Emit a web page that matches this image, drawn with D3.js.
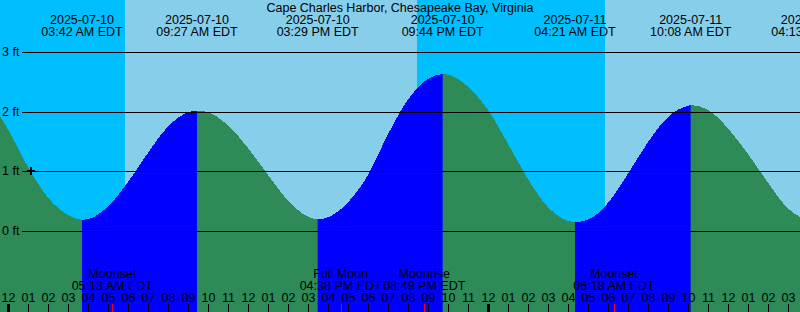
<!DOCTYPE html>
<html>
<head>
<meta charset="utf-8">
<script src="https://cdn.jsdelivr.net/npm/d3@7"></script>
<style>
  html, body { margin: 0; padding: 0; background: #fff; }
  svg { display: block; font-family: "Liberation Sans", Arial, sans-serif; font-size: 12.5px; }
</style>
</head>
<body>
<svg id="chart" width="800" height="312"></svg>
<script>
const title = 'Cape Charles Harbor, Chesapeake Bay, Virginia';

// high / low tides, local time (EDT)
const tideEventTimes = ['2025-07-10 03:42', '2025-07-10 09:27', '2025-07-10 15:29', '2025-07-10 21:44',
                        '2025-07-11 04:21', '2025-07-11 10:08', '2025-07-11 16:13'];
const tideEventTypes = ['low', 'high', 'low', 'high', 'low', 'high', 'low'];
const tideEventFeet = [0.19, 2.02, 0.195, 2.63, 0.15, 2.11, 0.18];

// hourly readings of the tide curve, hours after midnight 2025-07-10
const readingHours = [-3, -2, -1, 0, 1, 2, 3, 4, 5, 6, 7, 8, 9, 10, 11, 12, 13, 14, 15, 16, 17, 18, 19, 20,
                      21, 22, 23, 24, 25, 26, 27, 28, 29, 30, 31, 32, 33, 34, 35, 36, 37, 38, 39, 40, 41];
const readingFeet = [2.56, 2.47, 2.20, 1.70, 1.07, 0.56, 0.27, 0.20, 0.41, 0.82, 1.31, 1.75, 1.99, 1.99, 1.77,
                     1.39, 0.94, 0.51, 0.24, 0.23, 0.48, 0.94, 1.62, 2.20, 2.55, 2.62, 2.42, 2.03, 1.46, 0.87,
                     0.40, 0.17, 0.19, 0.47, 0.96, 1.49, 1.91, 2.10, 2.03, 1.72, 1.29, 0.81, 0.38, 0.19, 0.32];

// sun and moon
const sunTimes = ['2025-07-10 05:51', '2025-07-10 20:26', '2025-07-11 05:51'];
const sunKinds = ['Sunrise', 'Sunset', 'Sunrise'];
const moonTimes = ['2025-07-10 05:13', '2025-07-10 16:38', '2025-07-10 20:49', '2025-07-11 06:18'];
const moonNames = ['Moonset', 'Full Moon', 'Moonrise', 'Moonset'];

// current time mark
const nowTime = '2025-07-10 01:09';
const nowFeet = 1.0;

const levelTicks = [0, 1, 2, 3];

const W = 800, H = 312;
const parse = d3.timeParse('%Y-%m-%d %H:%M');
const base = new Date(2025, 6, 10, 0, 0);
const hr = 3600 * 1000;
const atHour = h => new Date(base.getTime() + h * hr);

const x = d3.scaleTime()
  .domain([atHour(-0.4), atHour(39.6)])
  .range([0, W]);
const y = d3.scaleLinear().domain([0, 3]).range([231, 52]);

const events = tideEventTimes.map((t, i) => ({
  date: parse(t), type: tideEventTypes[i], ft: tideEventFeet[i]
}));
const readings = readingHours.map((h, i) => ({ date: atHour(h), ft: readingFeet[i] }))
  .concat(events.map(e => ({ date: e.date, ft: e.ft })))
  .sort((a, b) => a.date - b.date);

const svg = d3.select('#chart');

// day / night sky
const skyEdges = [x.domain()[0]].concat(sunTimes.map(parse), [x.domain()[1]]);
let night = sunKinds[0] === 'Sunrise';
for (let i = 0; i < skyEdges.length - 1; i++) {
  svg.append('rect')
    .attr('x', x(skyEdges[i]))
    .attr('y', 0)
    .attr('width', x(skyEdges[i + 1]) - x(skyEdges[i]))
    .attr('height', H)
    .attr('fill', night ? '#00BFFF' : '#87CEEB')
    .attr('shape-rendering', 'crispEdges');
  night = !night;
}

// water
const area = d3.area()
  .x(d => x(d.date))
  .y0(H)
  .y1(d => y(d.ft))
  .curve(d3.curveMonotoneX);

svg.append('path')
  .datum(readings)
  .attr('d', area)
  .attr('fill', '#2E8B57')
  .attr('shape-rendering', 'crispEdges');

// rising tide (low -> high) in blue
const clip = svg.append('defs').append('clipPath').attr('id', 'flood');
events.forEach((e, i) => {
  const next = events[i + 1];
  if (e.type === 'low' && next && next.type === 'high') {
    clip.append('rect')
      .attr('x', x(e.date))
      .attr('y', 0)
      .attr('width', x(next.date) - x(e.date))
      .attr('height', H);
  }
});
svg.append('path')
  .datum(readings)
  .attr('d', area)
  .attr('fill', '#0000FF')
  .attr('clip-path', 'url(#flood)')
  .attr('shape-rendering', 'crispEdges');

// level lines
levelTicks.forEach(v => {
  const yy = Math.round(y(v));
  svg.append('line')
    .attr('x1', 22).attr('x2', W)
    .attr('y1', yy + 0.5).attr('y2', yy + 0.5)
    .attr('stroke', '#000');
  svg.append('text')
    .attr('x', 2).attr('y', yy + 4)
    .text(`${v} ft`);
});

// now mark
const nx = Math.round(x(parse(nowTime))), ny = Math.round(y(nowFeet));
svg.append('path')
  .attr('d', `M${nx - 4},${ny}H${nx + 4}M${nx},${ny - 4}V${ny + 4}`)
  .attr('stroke', '#000')
  .attr('stroke-width', 2)
  .attr('fill', 'none');

// title and tide labels
svg.append('text')
  .attr('x', W / 2).attr('y', 12)
  .attr('text-anchor', 'middle')
  .text(title);

const fmtDate = d3.timeFormat('%Y-%m-%d');
const fmtTime = d3.timeFormat('%I:%M %p EDT');
const tideLabels = svg.append('g').attr('text-anchor', 'middle');
events.forEach(e => {
  tideLabels.append('text').attr('x', x(e.date)).attr('y', 24).text(fmtDate(e.date));
  tideLabels.append('text').attr('x', x(e.date)).attr('y', 36).text(fmtTime(e.date));
});

// moon labels
const moonLabels = svg.append('g').attr('text-anchor', 'middle');
moonTimes.forEach((t, i) => {
  const d = parse(t);
  moonLabels.append('text').attr('x', x(d)).attr('y', 278).text(moonNames[i]);
  moonLabels.append('text').attr('x', x(d)).attr('y', 290).text(fmtTime(d));
});

// hour axis
const hourAxis = d3.axisTop(x)
  .ticks(d3.timeHour.every(1))
  .tickFormat(d3.timeFormat('%I'))
  .tickSize(8)
  .tickPadding(2);

const axisG = svg.append('g')
  .attr('transform', `translate(0,${H})`)
  .call(hourAxis);
axisG.select('.domain').remove();
axisG.attr('font-family', null).attr('font-size', null);
axisG.selectAll('.tick text').attr('fill', '#000');
axisG.selectAll('.tick line')
  .attr('stroke', '#000')
  .attr('stroke-width', d => d.getHours() === 0 ? 3 : 1);

// moon event ticks
moonTimes.forEach(t => {
  const mx = Math.round(x(parse(t))) + 0.5;
  svg.append('line')
    .attr('x1', mx).attr('x2', mx)
    .attr('y1', H - 8).attr('y2', H)
    .attr('stroke', '#FF0000');
});
</script>
</body>
</html>
